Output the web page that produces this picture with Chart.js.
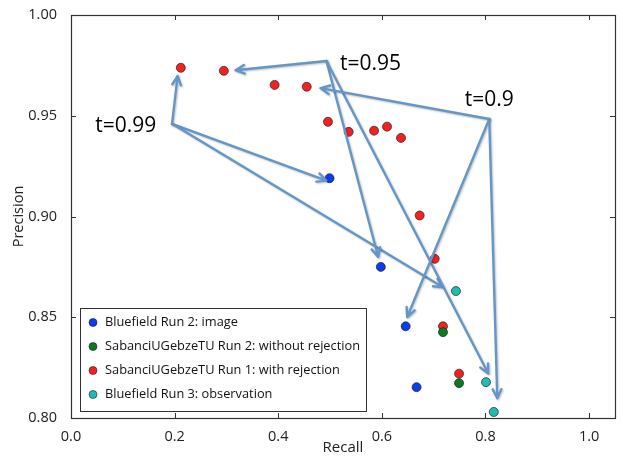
<!DOCTYPE html>
<html>
<head>
<meta charset="utf-8">
<script src="https://cdn.jsdelivr.net/npm/chart.js@4"></script>
<style>
  html, body { margin: 0; padding: 0; background: #fff; }
  #wrap { width: 623px; height: 459px; }
</style>
</head>
<body>
<div id="wrap"><canvas id="prChart" width="623" height="459"></canvas></div>
<script>
// series values (recall, precision)
const bluefieldImage = [[0.499, 0.919], [0.598, 0.875], [0.646, 0.8455], [0.667, 0.8153]];
const sabanciNoReject = [[0.718, 0.8426], [0.749, 0.8173]];
const sabanciReject = [
  [0.212, 0.9738], [0.295, 0.9723], [0.393, 0.9653], [0.455, 0.9644],
  [0.496, 0.947], [0.536, 0.942], [0.585, 0.9426], [0.610, 0.9446],
  [0.637, 0.939], [0.673, 0.9005], [0.702, 0.879], [0.718, 0.8455],
  [0.749, 0.822]
];
const bluefieldObs = [[0.743, 0.863], [0.801, 0.8178], [0.816, 0.803]];

const seriesNames = [
  'Bluefield Run 2: image',
  'SabanciUGebzeTU Run 2: without rejection',
  'SabanciUGebzeTU Run 1: with rejection',
  'Bluefield Run 3: observation'
];
const seriesColors = ['#0a3cf0', '#0a7a25', '#f52020', '#20bcb4'];

const xTicks = [0.0, 0.2, 0.4, 0.6, 0.8, 1.0];
const yTicks = [0.80, 0.85, 0.90, 0.95, 1.00];

// threshold annotations: label, label position, arrow origin, arrow tips (data coords)
const thresholdLabels = ['t=0.99', 't=0.95', 't=0.9'];
const labelPos = [[0.047, 0.945], [0.519, 0.9757], [0.760, 0.9579]];
const arrowFrom = [[0.195, 0.946], [0.4931, 0.9772], [0.8073, 0.9484]];
const arrowTips = [
  [[0.2058, 0.9698], [0.4928, 0.9178], [0.7179, 0.8649]],
  [[0.3173, 0.9726], [0.5929, 0.8799], [0.8054, 0.8221]],
  [[0.4815, 0.9637], [0.6489, 0.8501], [0.8228, 0.8098]]
];

const toPts = arr => arr.map(p => ({x: p[0], y: p[1]}));
const allSeries = [bluefieldImage, sabanciNoReject, sabanciReject, bluefieldObs];

const frameAndTicks = {
  id: 'frameAndTicks',
  afterDraw(chart) {
    const ctx = chart.ctx;
    const a = chart.chartArea;
    const xs = chart.scales.x, ys = chart.scales.y;
    ctx.save();
    ctx.strokeStyle = '#333';
    ctx.lineWidth = 1;
    ctx.beginPath();
    xTicks.forEach(v => {
      const px = Math.round(xs.getPixelForValue(v)) + 0.5;
      ctx.moveTo(px, a.bottom); ctx.lineTo(px, a.bottom - 5);
      ctx.moveTo(px, a.top); ctx.lineTo(px, a.top + 5);
    });
    yTicks.forEach(v => {
      const py = Math.round(ys.getPixelForValue(v)) + 0.5;
      ctx.moveTo(a.left, py); ctx.lineTo(a.left + 5, py);
      ctx.moveTo(a.right, py); ctx.lineTo(a.right - 5, py);
    });
    ctx.stroke();
    ctx.lineWidth = 1.2;
    ctx.strokeRect(Math.round(a.left) + 0.5, Math.round(a.top) + 0.5,
                   Math.round(a.right - a.left), Math.round(a.bottom - a.top));
    ctx.restore();
  }
};

const arrows = {
  id: 'arrows',
  afterDatasetsDraw(chart) {
    const ctx = chart.ctx;
    const xs = chart.scales.x, ys = chart.scales.y;
    const P = p => [xs.getPixelForValue(p[0]), ys.getPixelForValue(p[1])];
    ctx.save();
    ctx.strokeStyle = '#6496c8';
    ctx.lineWidth = 2.4;
    ctx.lineCap = 'round';
    ctx.lineJoin = 'round';
    ctx.shadowColor = 'rgba(0,0,0,0.25)';
    ctx.shadowBlur = 2;
    ctx.shadowOffsetX = 1;
    ctx.shadowOffsetY = 1;
    arrowFrom.forEach((f, i) => {
      const [fx, fy] = P(f);
      arrowTips[i].forEach(t => {
        const [tx, ty] = P(t);
        const ang = Math.atan2(ty - fy, tx - fx);
        const L = 10, w = 0.45;
        ctx.beginPath();
        ctx.moveTo(fx, fy); ctx.lineTo(tx, ty);
        ctx.moveTo(tx - L * Math.cos(ang - w), ty - L * Math.sin(ang - w));
        ctx.lineTo(tx, ty);
        ctx.lineTo(tx - L * Math.cos(ang + w), ty - L * Math.sin(ang + w));
        ctx.stroke();
      });
    });
    ctx.shadowColor = 'transparent';
    ctx.fillStyle = '#000';
    ctx.font = '21px "Open Sans"';
    ctx.textBaseline = 'middle';
    ctx.textAlign = 'left';
    thresholdLabels.forEach((s, i) => {
      const [lx, ly] = P(labelPos[i]);
      ctx.fillText(s, lx, ly);
    });
    ctx.restore();
  }
};

const boxLegend = {
  id: 'boxLegend',
  afterDraw(chart) {
    const ctx = chart.ctx;
    const a = chart.chartArea;
    const x0 = a.left + 9, y0 = a.bottom - 110, w = 286, h = 103;
    ctx.save();
    ctx.fillStyle = '#fff';
    ctx.fillRect(x0, y0, w, h);
    ctx.strokeStyle = '#333';
    ctx.lineWidth = 1;
    ctx.strokeRect(x0 + 0.5, y0 + 0.5, w, h);
    ctx.font = '12.8px "Open Sans"';
    ctx.textBaseline = 'middle';
    seriesNames.forEach((name, i) => {
      const cy = y0 + 14.5 + i * 24;
      ctx.beginPath();
      ctx.arc(x0 + 13, cy, 4, 0, Math.PI * 2);
      ctx.fillStyle = seriesColors[i];
      ctx.fill();
      ctx.lineWidth = 0.6;
      ctx.strokeStyle = '#222';
      ctx.stroke();
      ctx.fillStyle = '#111';
      ctx.fillText(name, x0 + 25, cy);
    });
    ctx.restore();
  }
};

new Chart(document.getElementById('prChart'), {
  type: 'scatter',
  data: {
    datasets: allSeries.map((s, i) => ({
      label: seriesNames[i],
      data: toPts(s),
      backgroundColor: seriesColors[i],
      borderColor: '#222',
      borderWidth: 0.7,
      pointRadius: 4.5,
      pointHoverRadius: 4.5
    }))
  },
  options: {
    responsive: false,
    animation: false,
    events: [],
    layout: { padding: { top: 15, right: 8, left: 0, bottom: 0 } },
    plugins: { legend: { display: false }, tooltip: { enabled: false } },
    scales: {
      x: {
        min: 0, max: 1.05,
        afterBuildTicks: s => { s.ticks = xTicks.map(v => ({value: v})); },
        afterFit: s => { s.height = 41; },
        grid: { display: false },
        border: { display: false },
        ticks: { color: '#222', font: { family: 'Open Sans', size: 14.5 }, padding: 2,
                 maxRotation: 0, callback: v => v.toFixed(1) },
        title: { display: true, text: 'Recall', color: '#222',
                 font: { family: 'Open Sans', size: 15 }, padding: { bottom: 2, top: 0 } }
      },
      y: {
        min: 0.8, max: 1.0,
        afterBuildTicks: s => { s.ticks = yTicks.map(v => ({value: v})); },
        afterFit: s => { s.width = 71; },
        grid: { display: false },
        border: { display: false },
        ticks: { color: '#222', font: { family: 'Open Sans', size: 14.5 }, padding: 6,
                 callback: v => v.toFixed(2) },
        title: { display: true, text: 'Precision', color: '#222',
                 font: { family: 'Open Sans', size: 14.5 }, padding: { top: 10, bottom: 0 } }
      }
    }
  },
  plugins: [frameAndTicks, arrows, boxLegend]
});
</script>
</body>
</html>
